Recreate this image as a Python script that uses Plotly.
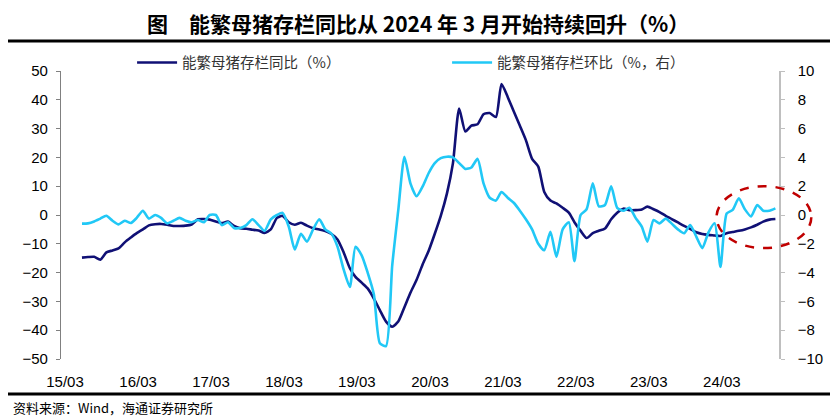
import pandas as pd
import plotly.graph_objects as go

# ---------------- data (monthly, 2015-06 .. 2024-12) ----------------
start_month = "2015-06-01"

yoy = [  # 能繁母猪存栏同比 (%), left axis
    -14.8, -14.6, -14.5, -15.5, -13.0, -12.3, -11.6, -9.5, -7.8, -6.3,          # 2015-06..2016-03
    -5.0, -3.6, -3.2, -3.1, -3.4, -3.8, -3.8, -3.7, -3.3, -1.5, -1.4, -1.6,    # 2016-04..2017-03
    -2.3, -2.8, -2.3, -3.8, -4.6, -4.8, -5.1, -5.4, -6.2, -5.0, -1.0, -0.3,    # 2017-04..2018-03
    -2.5, -3.4, -2.7, -3.7, -4.6, -5.0, -5.6, -6.6, -8.5, -13.0, -18.5, -21.5, # 2018-04..2019-03
    -23.5, -25.5, -29.0, -33.0, -37.0, -38.8, -37.0, -32.0, -27.0, -22.5, -17.0, -12.5,  # ..2020-03
    -6.5, -0.3, 7.5, 18.0, 37.0, 29.0, 31.0, 31.5, 35.0, 35.4, 34.0, 45.5,     # ..2021-03
    41.0, 36.0, 31.0, 26.0, 19.5, 16.8, 8.0, 5.0, 4.0, 2.5, 0.8, -2.5,         # ..2022-03
    -5.5, -8.0, -6.3, -5.5, -4.7, -1.5, 0.8, 2.2, 1.7, 1.7, 1.9, 2.9,          # ..2023-03
    2.0, 1.0, -0.3, -1.4, -2.6, -3.8, -4.8, -6.0, -6.6, -6.9, -7.1, -7.3,      # ..2024-03
    -6.3, -5.9, -5.5, -5.0, -4.3, -3.4, -2.3, -1.6, -1.4,                      # ..2024-12
]

mom = [  # 能繁母猪存栏环比 (%), right axis
    -0.6, -0.58, -0.45, -0.25, -0.05, -0.4, -0.65, -0.4, -0.55, -0.2,
    0.3, -0.25, 0.0, -0.2, -0.58, -0.4, -0.2, -0.4, -0.5, -0.35, -0.5, 0.0,
    0.0, -0.7, -0.5, -0.9, -0.9, -0.7, -0.3, -0.7, -1.1, -0.3, 0.0, 0.15,
    -0.8, -2.4, -1.3, -1.85, -1.0, -0.3, -1.0, -1.3, -2.2, -3.8, -5.0, -2.2,
    -2.8, -4.0, -5.5, -8.9, -9.1, -3.5, 0.3, 4.05, 2.2, 1.3, 2.0, 2.9,
    3.6, 3.95, 4.05, 4.0, 3.6, 3.2, 3.3, 3.9, 2.2, 1.2, 1.0, 1.6,
    1.2, 0.85, 0.3, -0.3, -1.0, -2.0, -2.45, -1.16, -2.9, -1.0, -0.5, -3.2,
    0.0, 0.4, 2.2, 0.6, 0.7, 2.0, 0.5, 0.3, 0.5, -0.2, -0.8, -1.85,
    -0.35, -0.58, -0.25, -0.6, -1.0, -1.27, -0.7, -1.5, -2.3, -1.2, -0.58, -3.6,
    0.1, 0.35, 1.16, 0.4, -0.1, 0.7, 0.3, 0.3, 0.46,
]

tick_dates = ["2015-03-01", "2016-03-01", "2017-03-01", "2018-03-01", "2019-03-01",
              "2020-03-01", "2021-03-01", "2022-03-01", "2023-03-01", "2024-03-01"]
tick_labels = ["15/03", "16/03", "17/03", "18/03", "19/03",
               "20/03", "21/03", "22/03", "23/03", "24/03"]

name_yoy = "能繁母猪存栏同比（%）"
name_mom = "能繁母猪存栏环比（%，右）"
title_text = "图　能繁母猪存栏同比从 2024 年 3 月开始持续回升（%）"
source_text = "资料来源：Wind，海通证券研究所"

# ---------------- figure ----------------
months = pd.date_range(start_month, periods=len(yoy), freq="MS")
xdates = months + pd.Timedelta(days=13)          # plotted mid-month
x_range = ["2015-03-01", "2025-01-01"]
label_pos = [pd.Timestamp(d) + pd.Timedelta(days=20) for d in tick_dates]

CJK = "Noto Sans CJK SC"
NUM = "Liberation Sans"
NARROW = "Liberation Sans Narrow, Arial Narrow, Liberation Sans"

fig = go.Figure()
fig.add_trace(go.Scatter(
    x=xdates, y=yoy, name=name_yoy, mode="lines", yaxis="y", xaxis="x",
    line=dict(color="#101075", width=2.6, shape="spline", smoothing=0.6)))
fig.add_trace(go.Scatter(
    x=xdates, y=mom, name=name_mom, mode="lines", yaxis="y2", xaxis="x",
    line=dict(color="#21C8F6", width=2.6, shape="spline", smoothing=0.6)))

# the page body adds an 8px offset, so the figure is 8px smaller on the top/left
fig.update_layout(
    width=830, height=409, autosize=False,
    margin=dict(l=53, r=59, t=63, b=58),
    paper_bgcolor="white", plot_bgcolor="white",
    showlegend=True,
    legend=dict(orientation="h", x=0.099, xanchor="left", y=1.085, yanchor="top",
                font=dict(family=CJK, size=14.5, color="#333333"),
                entrywidth=260, bgcolor="rgba(0,0,0,0)", itemwidth=40,
                traceorder="normal"),
    xaxis=dict(range=x_range, type="date", showline=False, showgrid=False, zeroline=False,
               tickmode="array", tickvals=label_pos, ticktext=tick_labels, ticks="",
               tickfont=dict(family=NARROW, size=15, color="black"),
               ticklabelstandoff=12),
    xaxis2=dict(range=x_range, type="date", overlaying="x", anchor="free", position=0.5,
                showline=True, linecolor="#808080", linewidth=1.5, showgrid=False,
                zeroline=False, tickmode="array", tickvals=tick_dates, ticks="outside",
                ticklen=4, tickcolor="#808080", tickwidth=1.2, showticklabels=False),
    yaxis=dict(range=[-50, 50], dtick=10, tick0=0, showgrid=False, zeroline=False,
               showline=True, linecolor="#808080", linewidth=1.2,
               ticks="outside", ticklen=4, tickcolor="#808080",
               tickfont=dict(family=NUM, size=15, color="black"), ticklabelstandoff=5),
    yaxis2=dict(range=[-10, 10], dtick=2, tick0=0, overlaying="y", side="right",
                showgrid=False, zeroline=False, showline=True, linecolor="#BFBFBF",
                linewidth=1.5, ticks="outside", ticklen=4, tickcolor="#BFBFBF",
                tickfont=dict(family=NUM, size=15, color="black"), ticklabelstandoff=10),
)

# title, rules and source
fig.add_annotation(text=title_text, xref="paper", yref="paper", x=0.497, y=1.168,
                   xanchor="center", yanchor="middle", showarrow=False, borderpad=0,
                   font=dict(family=CJK, size=21, color="black", weight="bold"))
fig.add_annotation(text=source_text, xref="paper", yref="paper", x=-0.07, y=-0.168,
                   xanchor="left", yanchor="middle", showarrow=False,
                   font=dict(family=CJK, size=13, color="black"))
fig.add_shape(type="line", xref="paper", yref="paper", x0=-0.09, x1=1.09, y0=1.104, y1=1.104,
              line=dict(color="black", width=3))
fig.add_shape(type="line", xref="paper", yref="paper", x0=-0.09, x1=1.09, y0=-0.1215, y1=-0.1215,
              line=dict(color="black", width=3))

# red dashed highlight ellipse
fig.add_shape(type="circle", xref="paper", yref="paper",
              x0=0.913, x1=1.045, y0=0.385, y1=0.60,
              line=dict(color="#C00000", width=2.5, dash="dash"))

fig.write_html("out.html")
